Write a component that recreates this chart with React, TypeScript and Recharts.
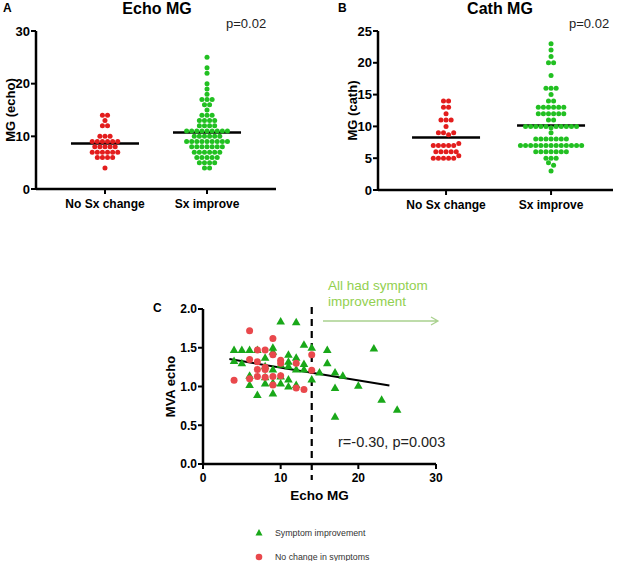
import { ScatterChart, Scatter, XAxis, YAxis, ReferenceLine, Label } from 'recharts';

const FONT = '"Liberation Sans", Arial, sans-serif';

const groups = ['No Sx change', 'Sx improve'];

// panel A: MG by echo
const echoNoChange = [14, 14, 13, 12, 12, 10, 10, 10, 9, 9, 9, 9, 9, 9, 8, 8, 8, 8, 8, 7, 7, 7, 7, 7, 7, 6, 6, 6, 6, 4];
const echoImprove = [25, 23, 22, 20, 19, 18, 17, 17, 17, 16, 16, 15, 14, 14, 14, 13, 13, 13, 13, 12, 12, 12, 12,
  11, 11, 11, 11, 11, 11, 11, 11, 11, 10, 10, 10, 10, 10, 10, 9, 9, 9, 9, 9, 9, 9, 9, 9,
  8, 8, 8, 8, 8, 8, 8, 7, 7, 7, 7, 7, 7, 6, 6, 6, 6, 6, 5, 5, 5, 5, 4, 4];
const echoTicks = [0, 10, 20, 30];

// panel B: MG by cath
const cathNoChange = [14, 14, 13, 13, 12, 11, 11, 11, 10, 9, 9, 8.7, 9, 7, 7, 7, 7, 7, 7.3, 6, 6, 6, 6, 6, 5, 5, 5, 5, 5, 5.4];
const cathImprove = [23, 22, 21, 20, 20, 18, 16, 16, 16, 15, 14, 14, 13, 13, 13, 13, 13, 13, 12, 12, 12, 12, 12, 12, 11, 11,
  10, 10, 10, 10, 10, 9.8, 10, 10, 10, 10, 10, 9, 8, 8, 8, 8, 8, 8, 8,
  7, 7, 7, 7, 7, 7, 7, 7, 7, 7, 7, 7, 7, 6, 6, 6, 6, 6, 6, 6, 5, 5, 5, 4.3, 3.9, 3];
const cathTicks = [0, 5, 10, 15, 20, 25];

// panel C: MVA vs echo MG
const improveMG = [4, 5, 4, 5, 6, 6, 6, 7, 7, 8, 8, 8, 8, 9, 9, 9, 9, 9, 10, 10, 10, 10, 11, 11, 11, 11, 11,
  12, 12, 12, 12, 13, 13, 13, 14, 14, 15, 16, 16, 17, 17, 17, 18, 20, 22, 23, 25];
const improveMVA = [1.47, 1.47, 1.33, 1.3, 1.47, 1.14, 1.02, 0.89, 1.47, 1.37, 1.26, 1.12, 1.04, 1.5, 1.45, 1.22, 1.05, 0.91,
  1.84, 1.28, 1.13, 1.04, 1.41, 1.32, 1.26, 1.09, 1.0, 1.83, 1.37, 1.22, 1.02, 1.54, 1.29, 1.22, 1.5, 1.09,
  1.18, 1.47, 1.3, 1.18, 0.98, 0.61, 1.14, 1.01, 1.49, 0.83, 0.7];
const noChangeMG = [6, 4, 6, 6, 7, 7, 7, 8, 8, 8, 9, 9, 9, 9, 10, 10, 10, 12, 12, 13, 14, 14, 8, 7];
const noChangeMVA = [1.72, 1.08, 1.35, 1.1, 1.47, 1.32, 1.22, 1.47, 1.22, 1.12, 1.62, 1.41, 1.13, 1.02, 1.34, 1.3, 1.14,
  1.3, 0.98, 0.96, 1.41, 1.21, 1.25, 1.13];
const mvaTicks = [0, 0.5, 1, 1.5, 2];
const mgTicks = [0, 10, 20, 30];
const fitIntercept = 1.41;
const fitSlope = -0.0166;
const fitRange = [3.4, 24];
const cutoffMG = 14;

const RED = '#e31d1d';
const GREEN = '#22c022';
const RED_C = '#e9484c';
const GREEN_C = '#19a819';

function swarm(values: number[], center: number, step: number) {
  const rows = new Map<number, number[]>();
  values.forEach((v) => {
    const k = Math.round(v);
    if (!rows.has(k)) rows.set(k, []);
    rows.get(k)!.push(v);
  });
  const pts: { x: number; y: number }[] = [];
  rows.forEach((row) => {
    row.forEach((v, i) => pts.push({ x: center + (i - (row.length - 1) / 2) * step, y: v }));
  });
  return pts;
}

const mean = (a: number[]) => a.reduce((s, v) => s + v, 0) / a.length;

const tickStyle = { fill: '#000', fontSize: 13, fontWeight: 700, fontFamily: FONT };
const axisLine = { stroke: '#000', strokeWidth: 2.5 };
const tickLine = { stroke: '#000', strokeWidth: 2 };

const dot = (color: string, r: number) => (p: any) => <circle cx={p.cx} cy={p.cy} r={r} fill={color} />;

function DotPlot({ left, yWidth, right, bottom, domain, yMax, ticks, yLabel, labelX, noChange, improve, pxPerUnit }: any) {
  const step = 5.1 / pxPerUnit;
  const half = 34 / pxPerUnit;
  const m1 = mean(noChange);
  const m2 = mean(improve);
  return (
    <div style={{ position: 'absolute', left, top: 0 }}>
      <ScatterChart width={310} height={225} margin={{ top: 31, right, left: 0, bottom }}>
        <XAxis type="number" dataKey="x" domain={domain} ticks={[1, 2]} allowDataOverflow
          tickFormatter={(v: number) => groups[v - 1]} axisLine={axisLine} tickLine={tickLine} tickSize={5}
          tickMargin={5} tick={{ ...tickStyle, fontSize: 12 }} height={30} />
        <YAxis type="number" dataKey="y" domain={[0, yMax]} ticks={ticks} width={yWidth} axisLine={axisLine}
          tickLine={tickLine} tickSize={5} tickMargin={1} tick={tickStyle}>
          <Label value={yLabel} angle={-90} position="insideLeft" offset={labelX}
            style={{ textAnchor: 'middle', fontSize: 13, fontWeight: 700, fontFamily: FONT, fill: '#000' }} />
        </YAxis>
        <Scatter data={swarm(noChange, 1, step)} shape={dot(RED, 2.5)} isAnimationActive={false} />
        <Scatter data={swarm(improve, 2, step)} shape={dot(GREEN, 2.5)} isAnimationActive={false} />
        <ReferenceLine segment={[{ x: 1 - half, y: m1 }, { x: 1 + half, y: m1 }]} stroke="#000" strokeWidth={2.5} />
        <ReferenceLine segment={[{ x: 2 - half, y: m2 }, { x: 2 + half, y: m2 }]} stroke="#000" strokeWidth={2.5} />
      </ScatterChart>
    </div>
  );
}

const triangle = (p: any) => (
  <path d={`M${p.cx},${p.cy - 4.5} L${p.cx + 4.3},${p.cy + 3} L${p.cx - 4.3},${p.cy + 3} Z`} fill={GREEN_C} />
);

export default function App() {
  const improvePts = improveMG.map((mg, i) => ({ mg, mva: improveMVA[i] }));
  const noChangePts = noChangeMG.map((mg, i) => ({ mg, mva: noChangeMVA[i] }));
  const fitSeg = fitRange.map((x) => ({ x, y: fitIntercept + fitSlope * x }));
  const txt = { fontFamily: FONT };
  return (
    <div style={{ position: 'absolute', left: 0, top: 0, width: 620, height: 561, background: '#fff' }}>
      <DotPlot left={0} yWidth={36} right={34} bottom={6} domain={[0.324, 2.676]} yMax={30} ticks={echoTicks}
        yLabel="MG (echo)" labelX={10} noChange={echoNoChange} improve={echoImprove} pxPerUnit={102} />
      <DotPlot left={310} yWidth={68} right={7} bottom={5} domain={[0.352, 2.59]} yMax={25} ticks={cathTicks}
        yLabel="MG (cath)" labelX={42} noChange={cathNoChange} improve={cathImprove} pxPerUnit={105} />

      <div style={{ position: 'absolute', left: 150, top: 270 }}>
        <ScatterChart width={320} height={240} margin={{ top: 39, right: 34, left: 0, bottom: 6 }}>
          <XAxis type="number" dataKey="mg" domain={[0, 30]} ticks={mgTicks} axisLine={axisLine} tickLine={tickLine}
            tickSize={5} tickMargin={4} tick={{ ...tickStyle, fontSize: 12 }} height={40}>
            <Label value="Echo MG" position="insideBottom" offset={4}
              style={{ fontSize: 13.5, fontWeight: 700, fontFamily: FONT, fill: '#000' }} />
          </XAxis>
          <YAxis type="number" dataKey="mva" domain={[0, 2]} ticks={mvaTicks} width={53} axisLine={axisLine}
            tickLine={tickLine} tickSize={5} tickMargin={1} tick={{ ...tickStyle, fontSize: 12 }}
            tickFormatter={(v: number) => v.toFixed(1)}>
            <Label value="MVA echo" angle={-90} position="insideLeft" offset={20}
              style={{ textAnchor: 'middle', fontSize: 13, fontWeight: 700, fontFamily: FONT, fill: '#000' }} />
          </YAxis>
          <ReferenceLine x={cutoffMG} stroke="#000" strokeWidth={2.2} strokeDasharray="7 5"
            shape={(p: any) => (
              <line x1={p.x1} x2={p.x2} y1={Math.min(p.y1, p.y2) - 2} y2={Math.max(p.y1, p.y2) + 16}
                stroke="#000" strokeWidth={2.2} strokeDasharray="7 5" />
            )} />
          <Scatter data={improvePts} shape={triangle} isAnimationActive={false} />
          <Scatter data={noChangePts} shape={dot(RED_C, 3.5)} isAnimationActive={false} />
          <ReferenceLine segment={fitSeg} stroke="#000" strokeWidth={2} />
        </ScatterChart>
      </div>

      <svg width={620} height={561} style={{ position: 'absolute', left: 0, top: 0, pointerEvents: 'none' }}>
        <text x={3} y={12} fontSize={12} fontWeight={700} style={txt}>A</text>
        <text x={157} y={14} fontSize={16} fontWeight={700} textAnchor="middle" style={txt}>Echo MG</text>
        <text x={226} y={28} fontSize={13} fill="#222" style={txt}>p=0.02</text>
        <text x={338} y={12} fontSize={12} fontWeight={700} style={txt}>B</text>
        <text x={500} y={14} fontSize={16} fontWeight={700} textAnchor="middle" style={txt}>Cath MG</text>
        <text x={569} y={28} fontSize={13} fill="#222" style={txt}>p=0.02</text>

        <text x={153} y={312} fontSize={12} fontWeight={700} style={txt}>C</text>
        <text x={328} y={290} fontSize={13.5} fill="#92d050" style={txt}>All had symptom</text>
        <text x={328} y={306} fontSize={13.5} fill="#92d050" style={txt}>improvement</text>
        <path d="M323,321 L438,321 M431,317 L438,321 L431,325" stroke="#a9d18e" strokeWidth={1.3} fill="none" />
        <text x={338} y={447} fontSize={14.5} fill="#222" style={txt}>r=-0.30, p=0.003</text>

        <path d="M259,529 L262.5,535.5 L255.5,535.5 Z" fill={GREEN_C} />
        <text x={275} y={536} fontSize={8.8} fill="#333" style={txt}>Symptom improvement</text>
        <circle cx={259} cy={557} r={3.3} fill={RED_C} />
        <text x={275} y={560} fontSize={8.8} fill="#333" style={txt}>No change in symptoms</text>
      </svg>
    </div>
  );
}
